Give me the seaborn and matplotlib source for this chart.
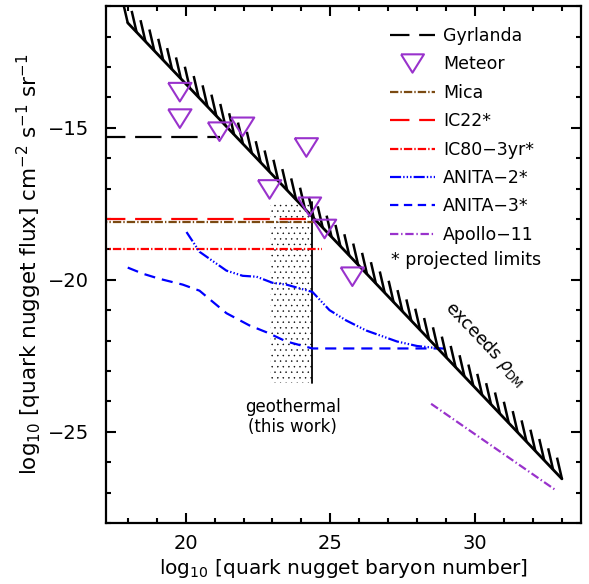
import numpy as np
import pandas as pd
import seaborn as sns
import matplotlib.pyplot as plt
from matplotlib.ticker import MultipleLocator
from matplotlib.lines import Line2D

# dark matter density bound (hatched line)
bound_x = [18.0, 33.0]
bound_y = [-11.55, -26.55]

# Meteor limits (open triangles)
meteor_x = [19.8, 19.8, 21.17, 21.97, 24.17, 22.9, 24.28, 24.8, 25.76]
meteor_y = [-13.83, -14.7, -15.13, -14.97, -15.65, -17.03, -17.6, -18.33, -19.9]

gyrlanda_x = [17.0, 21.2]
gyrlanda_y = [-15.3, -15.3]

mica_x = [17.0, 24.55]
mica_y = [-18.1, -18.1]

ic22_x = [17.0, 24.3]
ic22_y = [-18.0, -18.0]

ic80_x = [17.0, 24.7]
ic80_y = [-19.0, -19.0]

anita2_x = [20.03, 20.48, 21.41, 21.97, 22.45, 23.0, 23.48, 24.38, 24.97, 25.55, 26.24, 27.3, 28.0, 28.8]
anita2_y = [-18.43, -19.08, -19.7, -19.87, -19.9, -20.1, -20.16, -20.4, -21.0, -21.34, -21.67, -22.03, -22.18, -22.26]

anita3_x = [18.0, 18.52, 19.1, 19.9, 20.48, 20.93, 21.41, 22.2, 22.8, 23.48, 24.38, 29.0]
anita3_y = [-19.6, -19.8, -19.97, -20.16, -20.36, -20.72, -21.1, -21.5, -21.73, -22.03, -22.26, -22.26]

apollo_x = [28.48, 32.8]
apollo_y = [-24.08, -26.93]

# geothermal region (this work)
geo_x = [22.9, 24.38]
geo_top = [-17.45, -17.45]
geo_bottom = -23.4

sns.set_style("ticks")
plt.rcParams["font.family"] = ["DejaVu Sans"]
plt.rcParams["lines.scale_dashes"] = False
plt.rcParams["hatch.linewidth"] = 0.3
for key in ["text.color", "axes.labelcolor", "xtick.color", "ytick.color", "axes.edgecolor"]:
    plt.rcParams[key] = "black"

fig = plt.figure(figsize=(5.89, 5.84), dpi=100)
ax = fig.add_axes([0.18, 0.1045, 0.806, 0.885])

purple = "#9932CC"
brown = "#7B4A12"

# geothermal stippled band
ax.fill_between(geo_x, geo_top, geo_bottom, facecolor="none", edgecolor="black",
                hatch="...", linewidth=0)
ax.plot([geo_x[1], geo_x[1]], [geo_top[1], geo_bottom], color="black", lw=1.3)

lw = 1.6
sns.lineplot(x=gyrlanda_x, y=gyrlanda_y, ax=ax, color="black", lw=lw,
             linestyle=(0, (19, 7)), estimator=None, sort=False)
sns.lineplot(x=mica_x, y=mica_y, ax=ax, color=brown, lw=lw,
             linestyle=(0, (6, 1.5, 1, 1.5)), estimator=None, sort=False)
sns.lineplot(x=ic22_x, y=ic22_y, ax=ax, color="red", lw=lw,
             linestyle=(0, (19, 7)), estimator=None, sort=False)
sns.lineplot(x=ic80_x, y=ic80_y, ax=ax, color="red", lw=lw,
             linestyle=(0, (6, 1.5, 1, 1.5)), estimator=None, sort=False)
sns.lineplot(x=anita2_x, y=anita2_y, ax=ax, color="blue", lw=lw,
             linestyle=(0, (8, 1.5, 1, 1.5, 1, 1.5, 1, 1.5)), estimator=None, sort=False)
sns.lineplot(x=anita3_x, y=anita3_y, ax=ax, color="blue", lw=lw,
             linestyle=(0, (8, 5)), estimator=None, sort=False)
sns.lineplot(x=apollo_x, y=apollo_y, ax=ax, color=purple, lw=lw,
             linestyle=(0, (6, 2, 1, 2)), estimator=None, sort=False)

# bound with hatches
sns.lineplot(x=bound_x, y=bound_y, ax=ax, color="black", lw=2.0, estimator=None, sort=False)
hx = np.linspace(bound_x[0], bound_x[1], 50)
hy = np.interp(hx, bound_x, bound_y)
for x0, y0 in zip(hx, hy):
    ax.plot([x0, x0 - 0.17], [y0, y0 + 0.7], color="black", lw=1.8, solid_capstyle="butt")

tri = [(-1.0, 0.8), (1.0, 0.8), (0.0, -0.8), (-1.0, 0.8)]
sns.scatterplot(x=meteor_x, y=meteor_y, ax=ax, marker=tri, s=280, color=purple,
                facecolor="none", edgecolor=purple, linewidth=1.5, zorder=5)

ax.text(23.7, -24.2, "geothermal", ha="center", va="center", fontsize=12)
ax.text(23.7, -24.85, "(this work)", ha="center", va="center", fontsize=12)
ax.text(30.35, -22.1, r"exceeds $\rho_{\rm DM}$", ha="center", va="center",
        fontsize=12.5, rotation=-46.5)

ax.set_xlim(17.25, 33.65)
ax.set_ylim(-28, -11)
ax.xaxis.set_major_locator(MultipleLocator(5))
ax.xaxis.set_minor_locator(MultipleLocator(1))
ax.yaxis.set_major_locator(MultipleLocator(5))
ax.yaxis.set_minor_locator(MultipleLocator(1))
ax.tick_params(which="both", direction="in", top=True, right=True, width=1.5, labelsize=14)
ax.tick_params(which="major", length=7.5)
ax.tick_params(which="minor", length=3.8)
ax.tick_params(axis="x", pad=8)
ax.tick_params(axis="y", pad=12)
for s in ax.spines.values():
    s.set_linewidth(1.6)

ax.set_xlabel(r"log$_{10}$ [quark nugget baryon number]", fontsize=14.5, labelpad=3)
ax.set_ylabel(r"log$_{10}$ [quark nugget flux] cm$^{-2}$ s$^{-1}$ sr$^{-1}$", fontsize=15.5, labelpad=3)

handles = [
    Line2D([], [], color="black", lw=lw, linestyle=(0, (14, 7))),
    Line2D([], [], color=purple, marker=tri, markersize=16.5, markerfacecolor="none",
           markeredgewidth=1.5, linestyle="none"),
    Line2D([], [], color=brown, lw=lw, linestyle=(0, (6, 1.5, 1, 1.5))),
    Line2D([], [], color="red", lw=lw, linestyle=(0, (14, 7))),
    Line2D([], [], color="red", lw=lw, linestyle=(0, (6, 1.5, 1, 1.5))),
    Line2D([], [], color="blue", lw=lw, linestyle=(0, (8, 1.5, 1, 1.5, 1, 1.5, 1, 1.5))),
    Line2D([], [], color="blue", lw=lw, linestyle=(0, (6, 4))),
    Line2D([], [], color=purple, lw=lw, linestyle=(0, (6, 2, 1, 2))),
]
labels = ["Gyrlanda", "Meteor", "Mica", "IC22*", "IC80\u22123yr*", "ANITA\u22122*",
          "ANITA\u22123*", "Apollo\u221211"]
ax.legend(handles, labels, loc="upper left", bbox_to_anchor=(0.565, 0.99), frameon=False,
          fontsize=12.5, handlelength=2.6, handletextpad=0.45, labelspacing=0.6)
ax.text(27.1, -19.35, "* projected limits", ha="left", va="center", fontsize=12.5)

fig.savefig("out.png", dpi=100)
